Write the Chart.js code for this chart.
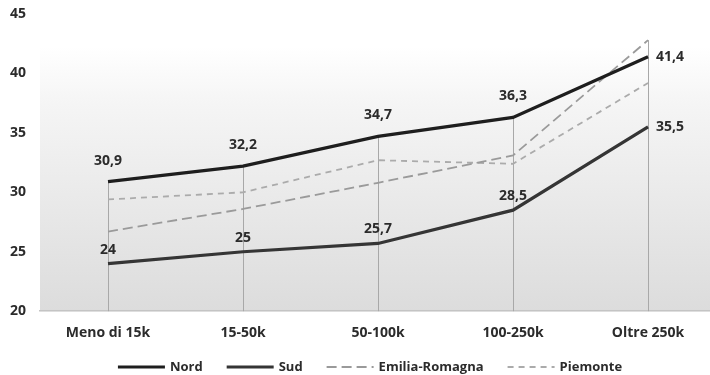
<!DOCTYPE html>
<html>
<head>
<meta charset="utf-8">
<script src="https://cdn.jsdelivr.net/npm/chart.js@4.4.1/dist/chart.umd.min.js"></script>
<style>
  html, body { margin: 0; padding: 0; background: #fff; overflow: hidden; }
  #wrap { width: 710px; height: 375px; }
</style>
</head>
<body>
<div id="wrap"><canvas id="c" width="710" height="375"></canvas></div>
<script>
const categories = ['Meno di 15k', '15-50k', '50-100k', '100-250k', 'Oltre 250k'];
const nord = [30.9, 32.2, 34.7, 36.3, 41.4];
const sud = [24, 25, 25.7, 28.5, 35.5];
const emiliaRomagna = [26.7, 28.6, 30.8, 33.1, 42.8];
const piemonte = [29.4, 30.0, 32.7, 32.4, 39.2];
const yTicks = [20, 25, 30, 35, 40, 45];

const FONT = '"Open Sans", "DejaVu Sans", sans-serif';
const TEXT = '#2b2b2b';

const toPoints = arr => arr.map((v, i) => ({ x: i, y: v }));

// Plot area background: white at top fading to light grey at the axis
const plotBackground = {
  id: 'plotBackground',
  beforeDraw(chart) {
    const { ctx, chartArea: a } = chart;
    const g = ctx.createLinearGradient(0, a.top, 0, a.bottom);
    g.addColorStop(0, '#ffffff');
    g.addColorStop(0.11, '#ffffff');
    g.addColorStop(0.3, '#f5f5f5');
    g.addColorStop(1, '#dcdcdc');
    ctx.save();
    ctx.fillStyle = g;
    ctx.fillRect(a.left, a.top, a.right - a.left, a.bottom - a.top);
    ctx.restore();
  }
};

// Drop lines from the highest value of each category down to the axis
const dropLines = {
  id: 'dropLines',
  beforeDatasetsDraw(chart) {
    const { ctx, scales: { x, y } } = chart;
    ctx.save();
    ctx.strokeStyle = '#a8a8a8';
    ctx.lineWidth = 1;
    categories.forEach((_, i) => {
      const top = Math.max(...chart.data.datasets.map(d => d.data[i].y));
      const px = Math.round(x.getPixelForValue(i)) + 0.5;
      ctx.beginPath();
      ctx.moveTo(px, y.getPixelForValue(top));
      ctx.lineTo(px, y.getPixelForValue(y.min));
      ctx.stroke();
    });
    ctx.restore();
  }
};

// Value labels for the Nord and Sud series
const valueLabels = {
  id: 'valueLabels',
  afterDatasetsDraw(chart) {
    const { ctx } = chart;
    ctx.save();
    ctx.font = 'bold 14px ' + FONT;
    ctx.fillStyle = TEXT;
    ctx.textBaseline = 'middle';
    [0, 1].forEach(di => {
      const meta = chart.getDatasetMeta(di);
      const ds = chart.data.datasets[di];
      meta.data.forEach((pt, i) => {
        const txt = String(ds.data[i].y).replace('.', ',');
        if (i === categories.length - 1) {
          ctx.textAlign = 'left';
          ctx.fillText(txt, pt.x + 8, pt.y);
        } else {
          ctx.textAlign = 'center';
          ctx.fillText(txt, pt.x, pt.y - (di === 0 ? 21 : 14));
        }
      });
    });
    ctx.restore();
  }
};

// Legend row under the axis, using each dataset's own line style
const lineLegend = {
  id: 'lineLegend',
  afterDraw(chart) {
    const { ctx, chartArea: a } = chart;
    const sample = 47, gap = 5, spacing = 24;
    const yMid = 367;
    ctx.save();
    ctx.font = 'bold 13px ' + FONT;
    const items = chart.data.datasets.map(ds => ({ ds, w: ctx.measureText(ds.label).width }));
    const total = items.reduce((s, it) => s + sample + gap + it.w, 0) + spacing * (items.length - 1);
    let x = (a.left + a.right) / 2 - 5 - total / 2;
    items.forEach(({ ds, w }) => {
      ctx.beginPath();
      ctx.setLineDash(ds.borderDash || []);
      ctx.strokeStyle = ds.borderColor;
      ctx.lineWidth = ds.borderWidth;
      ctx.moveTo(x, yMid);
      ctx.lineTo(x + sample, yMid);
      ctx.stroke();
      ctx.setLineDash([]);
      ctx.fillStyle = TEXT;
      ctx.textAlign = 'left';
      ctx.textBaseline = 'middle';
      ctx.fillText(ds.label, x + sample + gap, yMid);
      x += sample + gap + w + spacing;
    });
    ctx.restore();
  }
};

new Chart(document.getElementById('c'), {
  type: 'line',
  data: {
    datasets: [
      { label: 'Nord', data: toPoints(nord), borderColor: '#1e1e1e', backgroundColor: '#1e1e1e', borderWidth: 3.2 },
      { label: 'Sud', data: toPoints(sud), borderColor: '#353535', backgroundColor: '#353535', borderWidth: 3.2 },
      { label: 'Emilia-Romagna', data: toPoints(emiliaRomagna), borderColor: '#9a9a9a', backgroundColor: '#9a9a9a', borderWidth: 1.8, borderDash: [10, 5] },
      { label: 'Piemonte', data: toPoints(piemonte), borderColor: '#ababab', backgroundColor: '#ababab', borderWidth: 1.8, borderDash: [6, 5] }
    ]
  },
  options: {
    responsive: false,
    animation: false,
    devicePixelRatio: 1,
    layout: { padding: { top: 14, right: 0, left: 0, bottom: 21 } },
    elements: {
      point: { radius: 0, hoverRadius: 0 },
      line: { tension: 0, borderCapStyle: 'butt', borderJoinStyle: 'miter' }
    },
    scales: {
      x: {
        type: 'linear',
        min: -0.5037,
        max: 4.459,
        grid: { display: false, drawTicks: false },
        border: { display: true, color: '#c4c4c4', width: 1.5 },
        afterBuildTicks(axis) {
          axis.ticks = categories.map((_, i) => ({ value: i }));
        },
        afterFit(axis) { axis.paddingLeft = 0; axis.paddingRight = 0; },
        ticks: {
          padding: 13,
          color: TEXT,
          font: { family: FONT, size: 14, weight: 'bold' },
          callback: v => categories[v]
        }
      },
      y: {
        min: 20,
        max: 45,
        afterBuildTicks(axis) {
          axis.ticks = yTicks.map(v => ({ value: v }));
        },
        afterFit(axis) { axis.width = 40; axis.paddingTop = 0; axis.paddingBottom = 0; },
        grid: { display: false, drawTicks: false },
        border: { display: false },
        ticks: {
          padding: 14,
          color: TEXT,
          font: { family: FONT, size: 14, weight: 'bold' }
        }
      }
    },
    plugins: {
      tooltip: { enabled: false },
      legend: { display: false }
    }
  },
  plugins: [plotBackground, dropLines, valueLabels, lineLegend]
});
</script>
</body>
</html>
